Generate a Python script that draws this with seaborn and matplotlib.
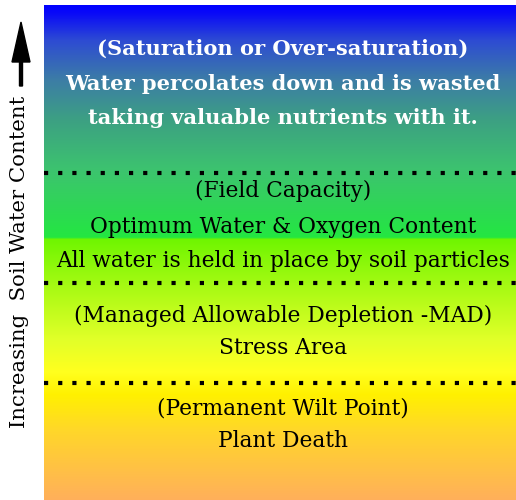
import numpy as np
import pandas as pd
import seaborn as sns
import matplotlib.pyplot as plt
from matplotlib.colors import LinearSegmentedColormap

# ---- data ----
zone_titles = ["(Saturation or Over-saturation)", "(Field Capacity)",
               "(Managed Allowable Depletion -MAD)", "(Permanent Wilt Point)"]
zone_lines = [
    ["Water percolates down and is wasted", "taking valuable nutrients with it."],
    ["Optimum Water & Oxygen Content", "All water is held in place by soil particles"],
    ["Stress Area"],
    ["Plant Death"],
]
boundaries = [168, 278, 378]          # soil-water rows where zones meet (0 = top, 495 = bottom)
axis_label = "Increasing  Soil Water Content"

# gradient stops (row position, colour)
stop_rows = [0, 7, 35, 75, 115, 165, 232, 234, 285, 335, 367, 390, 425, 495]
stop_colors = [(0, 0, 255), (8, 8, 248), (45, 75, 210), (60, 125, 165), (60, 160, 130),
               (60, 195, 110), (35, 230, 65), (110, 245, 0), (170, 250, 20), (225, 255, 40),
               (255, 255, 30), (255, 240, 0), (255, 215, 40), (255, 175, 90)]

n_rows = 495
cmap = LinearSegmentedColormap.from_list(
    "soil", [(r / n_rows, tuple(c / 255 for c in col)) for r, col in zip(stop_rows, stop_colors)], N=1024)

sns.set_theme(style="white")
plt.rcParams['font.family'] = ['DejaVu Serif']

fig = plt.figure(figsize=(5.16, 5.00), dpi=100)
ax = fig.add_axes([44 / 516, 0, 472 / 516, 495 / 500])
grad = pd.DataFrame(np.linspace(0, 1, n_rows).reshape(-1, 1))
sns.heatmap(grad, cmap=cmap, vmin=0, vmax=1, cbar=False, xticklabels=False,
            yticklabels=False, ax=ax, rasterized=True)
ax.set_axis_off()

for b in boundaries:
    ax.axhline(b, color="black", lw=3.0, linestyle=(0, (1, 2.4)), dash_capstyle="butt")

cx = 0.506
fs = 15.7
fsb = 15.1
# saturation zone (bold white)
ax.text(cx, 44, zone_titles[0], ha="center", va="center", color="white", fontsize=fsb, fontweight="bold")
ax.text(cx, 79, zone_lines[0][0], ha="center", va="center", color="white", fontsize=fsb, fontweight="bold")
ax.text(cx, 113, zone_lines[0][1], ha="center", va="center", color="white", fontsize=fsb, fontweight="bold")
# field capacity
ax.text(cx, 186, zone_titles[1], ha="center", va="center", color="black", fontsize=fs)
ax.text(cx, 222, zone_lines[1][0], ha="center", va="center", color="black", fontsize=fs)
ax.text(cx, 256, zone_lines[1][1], ha="center", va="center", color="black", fontsize=fs)
# MAD
ax.text(cx, 311, zone_titles[2], ha="center", va="center", color="black", fontsize=fs)
ax.text(cx, 343, zone_lines[2][0], ha="center", va="center", color="black", fontsize=fs)
# PWP
ax.text(cx, 404, zone_titles[3], ha="center", va="center", color="black", fontsize=fs)
ax.text(cx, 436, zone_lines[3][0], ha="center", va="center", color="black", fontsize=fs)

# left label and arrow
fig.text(20 / 516, 1 - 262 / 500, axis_label, rotation=90, ha="center", va="center",
         fontsize=15.3, color="black")
fig.patches.append(plt.matplotlib.patches.FancyArrow(
    21 / 516, 1 - 86 / 500, 0, 64 / 500, width=3 / 516, head_width=18 / 516,
    head_length=40 / 500, length_includes_head=True, color="black",
    transform=fig.transFigure, figure=fig))

fig.savefig("out.png", dpi=100)
